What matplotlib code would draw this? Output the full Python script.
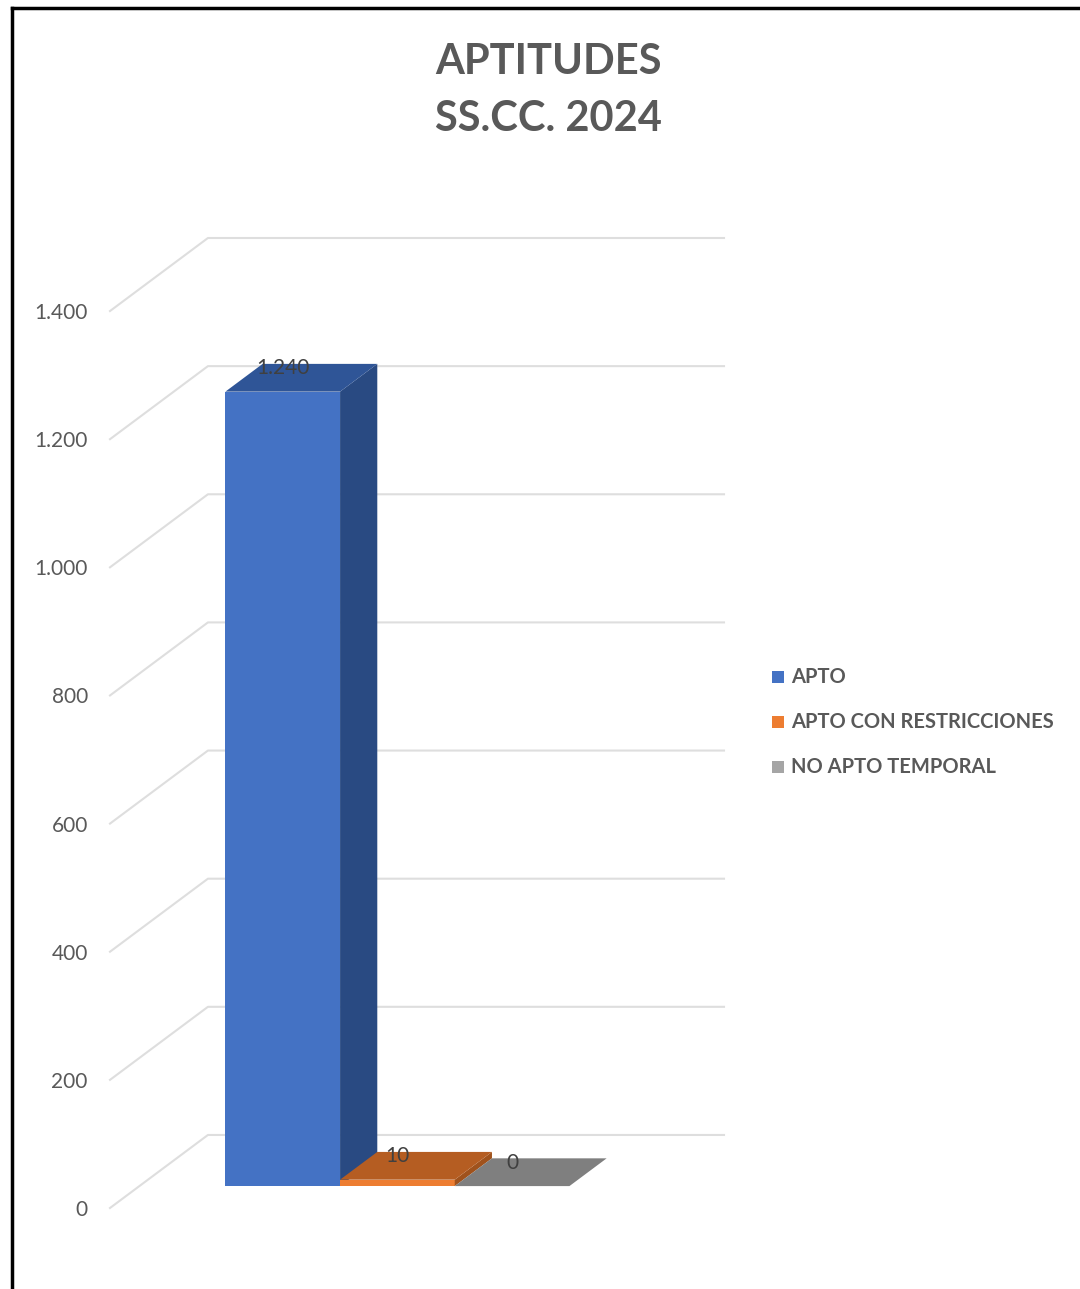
import matplotlib
matplotlib.use("Agg")
import matplotlib.pyplot as plt
from matplotlib.patches import Polygon, Rectangle
from matplotlib.lines import Line2D

categories = ["APTO", "APTO CON RESTRICCIONES", "NO APTO TEMPORAL"]
values = [1240, 10, 0]
label_texts = ["1.240", "10", "0"]
ticks = [0, 200, 400, 600, 800, 1000, 1200, 1400]
tick_labels = ["0", "200", "400", "600", "800", "1.000", "1.200", "1.400"]

front = ["#4472C4", "#ED7D31", "#A5A5A5"]
top = ["#2F5597", "#B55D22", "#7F7F7F"]
side = ["#294A82", "#A0521C", "#6E6E6E"]

W, H = 1080, 1289
fig = plt.figure(figsize=(W / 100, H / 100), dpi=100)
fig.patch.set_facecolor("white")

# frame of the screenshot (top and left only)
fig.add_artist(Line2D([12 / W, 12 / W], [0, 1 - 8 / H], color="black", lw=2.5))
fig.add_artist(Line2D([12 / W, 1], [1 - 8 / H, 1 - 8 / H], color="black", lw=2.5))

ax = fig.add_axes([110 / W, (H - 1208) / H, (724 - 110) / W, (1208 - 238) / H])
DX = 0.854   # depth shift in category units
DY = 114     # depth shift in value units
xmax = 4.5 + DX
ax.set_xlim(0, xmax)
ax.set_ylim(0, 1400 + DY)
for s in ax.spines.values():
    s.set_visible(False)
ax.set_xticks([])
ax.set_yticks(ticks)
ax.set_yticklabels(tick_labels, family="Lato", va="top")
ax.tick_params(axis="y", length=0, pad=16, labelsize=15, labelcolor="#595959")
for lab in ax.get_yticklabels():
    lab.set_verticalalignment("center_baseline")

grid_c = "#DEDEDE"
for t in ticks:
    ax.plot([0, DX, xmax], [t, t + DY, t + DY], color=grid_c, lw=1.5, clip_on=False, zorder=1)

d0, d1 = 0.30, 0.68
for i, v in enumerate(values):
    x0 = 0.75 + i + d0 * DX
    y0 = d0 * DY
    ex = (d1 - d0) * DX
    ey = (d1 - d0) * DY
    ax.add_patch(Rectangle((x0, y0), 1, v, facecolor=front[i], edgecolor="none", zorder=3 + i))
    ax.add_patch(Polygon([(x0 + 1, y0), (x0 + 1 + ex, y0 + ey), (x0 + 1 + ex, y0 + ey + v), (x0 + 1, y0 + v)],
                         facecolor=side[i], edgecolor="none", zorder=3 + i))
    ax.add_patch(Polygon([(x0, y0 + v), (x0 + 1, y0 + v), (x0 + 1 + ex, y0 + ey + v), (x0 + ex, y0 + ey + v)],
                         facecolor=top[i], edgecolor="none", zorder=3 + i))
    ax.text(x0 + 0.5, v + d1 * DY - 7, label_texts[i], ha="center", va="center",
            fontsize=15, color="#404040", family="Lato", zorder=10)

fig.text(548 / W, 1 - 62 / H, "APTITUDES", ha="center", va="center", fontsize=30,
         fontweight="bold", color="#595959", family="Lato")
fig.text(548 / W, 1 - 119 / H, "SS.CC. 2024", ha="center", va="center", fontsize=30,
         fontweight="bold", color="#595959", family="Lato")

for i, name in enumerate(categories):
    yy = 1 - (677 + 45 * i) / H
    fig.add_artist(Rectangle((772 / W, yy - 6 / H), 12 / W, 12 / H, transform=fig.transFigure,
                             facecolor=front[i], edgecolor="none"))
    fig.text(791 / W, yy, name, ha="left", va="center", fontsize=14.5, fontweight="bold",
             color="#595959", family="Lato")

fig.savefig("out.png", dpi=100)
